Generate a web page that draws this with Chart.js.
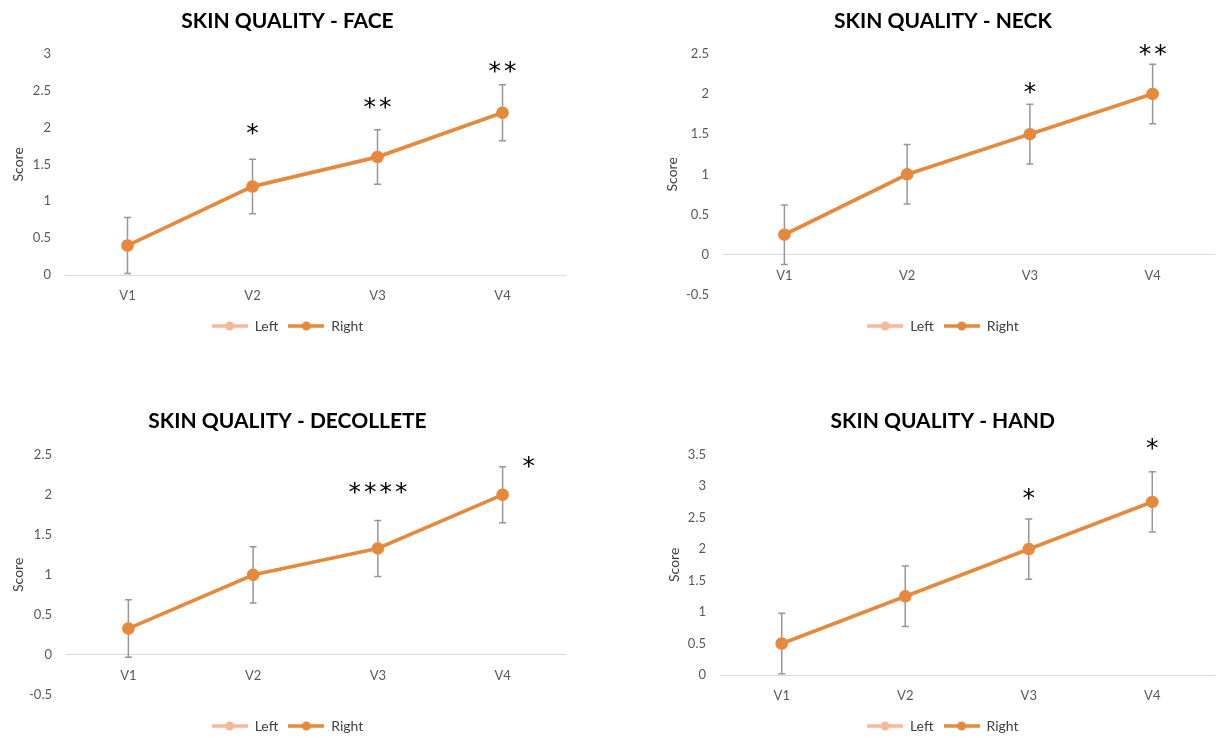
<!DOCTYPE html>
<html><head><meta charset="utf-8">
<script src="https://cdn.jsdelivr.net/npm/chart.js@4.4.1/dist/chart.umd.min.js"></script>
<style>
html,body{margin:0;padding:0;background:#fff;width:1220px;height:738px;overflow:hidden;}
canvas{position:absolute;}
</style></head><body>
<canvas id="c1" width="600" height="343" style="left:0;top:0"></canvas>
<canvas id="c2" width="612" height="343" style="left:610px;top:0"></canvas>
<canvas id="c3" width="600" height="343" style="left:0;top:400px"></canvas>
<canvas id="c4" width="612" height="343" style="left:610px;top:400px"></canvas>
<script>
// ---------- DATA ----------
const categories = ['V1', 'V2', 'V3', 'V4'];
const seriesNames = ['Left', 'Right'];

const faceLeft  = [0.4, 1.2, 1.6, 2.2];
const faceRight = [0.4, 1.2, 1.6, 2.2];
const faceErr   = [0.38, 0.37, 0.37, 0.38];
const faceSig   = ['', '*', '**', '**'];

const neckLeft  = [0.25, 1.0, 1.5, 2.0];
const neckRight = [0.25, 1.0, 1.5, 2.0];
const neckErr   = [0.37, 0.37, 0.37, 0.37];
const neckSig   = ['', '', '*', '**'];

const decLeft   = [0.33, 1.0, 1.33, 2.0];
const decRight  = [0.33, 1.0, 1.33, 2.0];
const decErr    = [0.36, 0.35, 0.35, 0.35];
const decSig    = ['', '', '****', '*'];

const handLeft  = [0.5, 1.25, 2.0, 2.75];
const handRight = [0.5, 1.25, 2.0, 2.75];
const handErr   = [0.48, 0.48, 0.48, 0.48];
const handSig   = ['', '', '*', '*'];

const faceTicks = [0, 0.5, 1, 1.5, 2, 2.5, 3];
const neckTicks = [-0.5, 0, 0.5, 1, 1.5, 2, 2.5];
const decTicks  = [-0.5, 0, 0.5, 1, 1.5, 2, 2.5];
const handTicks = [0, 0.5, 1, 1.5, 2, 2.5, 3, 3.5];

// ---------- STYLE / LAYOUT ----------
const COLORS = { left: '#F5B99A', right: '#E5893C', err: '#979797', axis: '#D9D9D9', tick: '#595959', title: '#000000' };
const FONT = 'Lato, "Open Sans", sans-serif';
// pixel gap between error-bar top and star centre, and horizontal shift (styling of annotations)
const SIG_STYLE = {
  face: { gap: [0, 30, 27, 18], dx: [0, 0, 0, 0] },
  neck: { gap: [0, 0, 16, 14], dx: [0, 0, 0, 0] },
  dec:  { gap: [0, 0, 32, 5],  dx: [0, 0, 0, 26] },
  hand: { gap: [0, 0, 25, 28], dx: [0, 0, 0, 0] }
};

function legendIcon(color) {
  const c = document.createElement('canvas');
  c.width = 36; c.height = 10;
  const g = c.getContext('2d');
  g.strokeStyle = color; g.lineWidth = 3.5;
  g.beginPath(); g.moveTo(0, 5); g.lineTo(36, 5); g.stroke();
  g.fillStyle = color; g.beginPath(); g.arc(18, 5, 4.5, 0, Math.PI * 2); g.fill();
  return c;
}
const icons = [legendIcon(COLORS.left), legendIcon(COLORS.right)];

const errorBarPlugin = {
  id: 'errorBars',
  beforeDatasetsDraw(chart) {
    const cfg = chart.options.plugins.errorBars;
    const meta = chart.getDatasetMeta(1);
    const y = chart.scales.y;
    const ctx = chart.ctx;
    const vals = chart.data.datasets[1].data;
    ctx.save();
    ctx.strokeStyle = COLORS.err;
    ctx.lineWidth = 1.5;
    meta.data.forEach((pt, i) => {
      const top = y.getPixelForValue(vals[i] + cfg.err[i]);
      const bot = y.getPixelForValue(vals[i] - cfg.err[i]);
      const x = pt.x;
      ctx.beginPath();
      ctx.moveTo(x, top); ctx.lineTo(x, bot);
      ctx.moveTo(x - 3.5, top); ctx.lineTo(x + 3.5, top);
      ctx.moveTo(x - 3.5, bot); ctx.lineTo(x + 3.5, bot);
      ctx.stroke();
    });
    ctx.restore();
  },
  afterDatasetsDraw(chart) {
    const cfg = chart.options.plugins.errorBars;
    const meta = chart.getDatasetMeta(1);
    const y = chart.scales.y;
    const ctx = chart.ctx;
    const vals = chart.data.datasets[1].data;
    ctx.save();
    ctx.fillStyle = '#000';
    ctx.font = '25px "DejaVu Sans", sans-serif';
    ctx.textAlign = 'center';
    ctx.textBaseline = 'alphabetic';
    const m = ctx.measureText('*');
    const glyphMid = (m.actualBoundingBoxAscent - m.actualBoundingBoxDescent) / 2;
    meta.data.forEach((pt, i) => {
      const s = cfg.sig[i];
      if (!s) return;
      const top = y.getPixelForValue(vals[i] + cfg.err[i]);
      const cy = top - cfg.style.gap[i];
      const n = s.length, sp = 15.5;
      const cx0 = pt.x + cfg.style.dx[i] - (n - 1) * sp / 2;
      for (let k = 0; k < n; k++) ctx.fillText(s[k], cx0 + k * sp, cy + glyphMid);
    });
    ctx.restore();
  }
};

function makeChart(id, title, left, right, err, sig, ticks, style, lay) {
  const tmin = ticks[0], tmax = ticks[ticks.length - 1];
  return new Chart(document.getElementById(id), {
    type: 'line',
    data: {
      labels: categories,
      datasets: [
        { label: seriesNames[0], data: left, order: 2, xAxisID: 'x', yAxisID: 'y',
          borderColor: COLORS.left, backgroundColor: COLORS.left,
          pointBackgroundColor: COLORS.left, pointBorderColor: COLORS.left, borderWidth: 3.5, pointRadius: 4.5 },
        { label: seriesNames[1], data: right, order: 1, xAxisID: 'x', yAxisID: 'y',
          borderColor: COLORS.right, backgroundColor: COLORS.right,
          pointBackgroundColor: COLORS.right, pointBorderColor: COLORS.right, borderWidth: 3.5, pointRadius: 4.5 }
      ]
    },
    options: {
      responsive: false,
      animation: false,
      events: [],
      layout: { padding: { left: lay.padLeft, right: lay.padRight, top: 0, bottom: 0 } },
      scales: {
        x: {
          position: { y: 0 },
          offset: true,
          grid: { display: false, drawTicks: false },
          border: { display: true, color: COLORS.axis, width: 1 },
          ticks: { color: COLORS.tick, font: { family: FONT, size: 13 }, padding: 13 }
        },
        gap: {
          type: 'category', axis: 'x', position: 'bottom', display: true,
          grid: { display: false, drawTicks: false }, border: { display: false },
          ticks: { display: false },
          afterFit(s) { s.height = lay.gap; }
        },
        y: {
          min: tmin, max: tmax,
          afterBuildTicks(s) { s.ticks = ticks.map(v => ({ value: v })); },
          grid: { display: false, drawTicks: false },
          border: { display: false },
          ticks: { color: COLORS.tick, font: { family: FONT, size: 13 }, padding: 14,
                   callback: v => String(v) },
          title: { display: true, text: 'Score', color: '#404040', font: { family: FONT, size: 14 }, padding: { top: 0, bottom: 0 } },
          afterFit(s) { s.width = lay.yW; }
        }
      },
      plugins: {
        title: { display: true, text: title, color: COLORS.title, font: { family: FONT, size: 21, weight: 'bold' },
                 padding: { top: 9, bottom: lay.titleBottom } },
        legend: {
          position: 'bottom',
          labels: {
            usePointStyle: true, pointStyleWidth: 36, padding: 10,
            color: '#404040', font: { family: FONT, size: 14 },
            generateLabels(chart) {
              return chart.data.datasets.map((d, i) => ({
                text: d.label, pointStyle: icons[i], fillStyle: d.borderColor, strokeStyle: d.borderColor,
                lineWidth: 0, hidden: false, datasetIndex: i, fontColor: '#404040'
              }));
            }
          }
        },
        tooltip: { enabled: false },
        errorBars: { err: err, sig: sig, style: style }
      }
    },
    plugins: [errorBarPlugin]
  });
}

makeChart('c1', 'SKIN QUALITY - FACE', faceLeft, faceRight, faceErr, faceSig, faceTicks, SIG_STYLE.face,
  { padLeft: 10, yW: 55, padRight: 35, gap: 34, titleBottom: 19.5 });
makeChart('c2', 'SKIN QUALITY - NECK', neckLeft, neckRight, neckErr, neckSig, neckTicks, SIG_STYLE.neck,
  { padLeft: 54, yW: 59, padRight: 0, gap: 14, titleBottom: 19.5 });
makeChart('c3', 'SKIN QUALITY - DECOLLETE', decLeft, decRight, decErr, decSig, decTicks, SIG_STYLE.dec,
  { padLeft: 10, yW: 56, padRight: 35, gap: 14, titleBottom: 20.5 });
makeChart('c4', 'SKIN QUALITY - HAND', handLeft, handRight, handErr, handSig, handTicks, SIG_STYLE.hand,
  { padLeft: 56, yW: 54, padRight: 2.5, gap: 34, titleBottom: 20.5 });
</script>
</body></html>
